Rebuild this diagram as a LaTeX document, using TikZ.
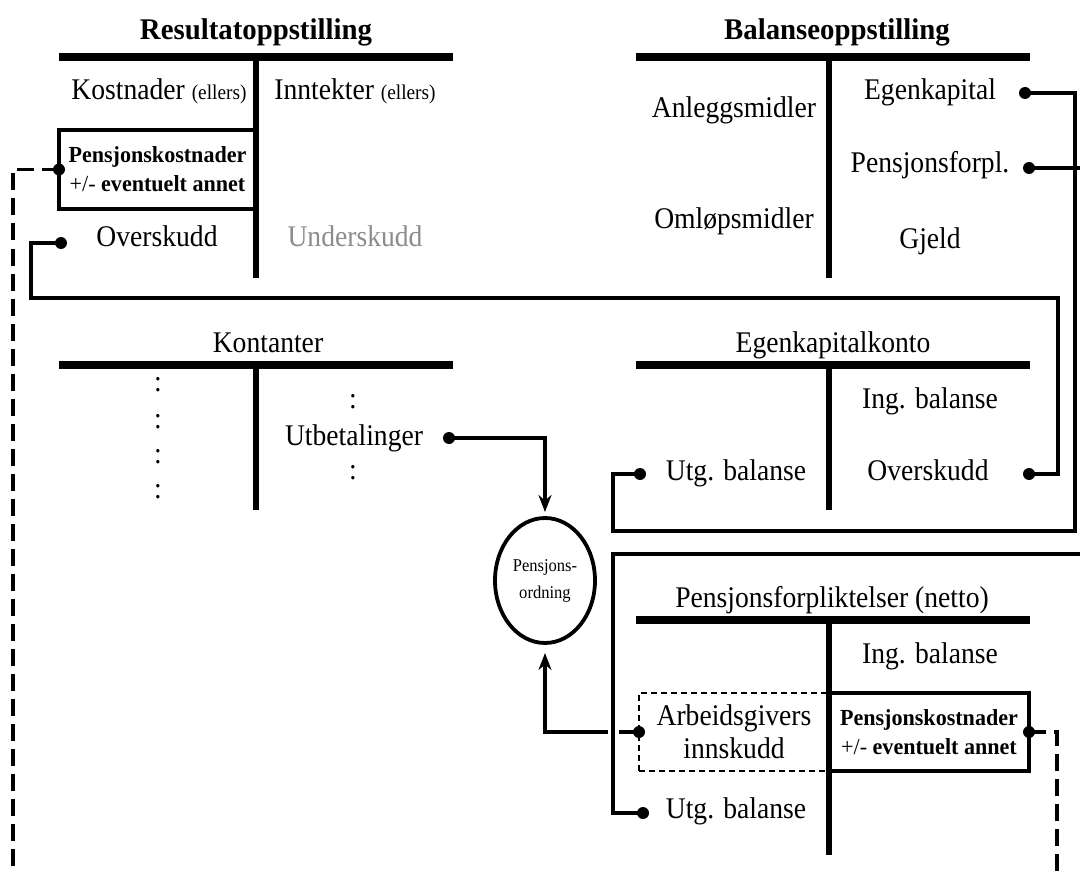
\documentclass[tikz,border=0pt]{standalone}
\usepackage{fontspec}
\setmainfont{Liberation Serif}[FakeStretch=0.92]
\newfontfamily\ttlfont{Liberation Serif}[FakeStretch=0.96]
\usetikzlibrary{arrows.meta,shapes.geometric}
\definecolor{undergray}{gray}{0.55}

\begin{document}
\begin{tikzpicture}[x=1pt,y=-1pt,
  every node/.style={inner sep=0pt,outer sep=0pt},
  txt/.style={anchor=base,font=\fontsize{30}{33}\selectfont},
  ttl/.style={anchor=base,font=\ttlfont\fontsize{30}{33}\selectfont\bfseries},
  bar/.style={line width=8pt},
  stem/.style={line width=6pt},
  conn/.style={line width=3.8pt,line cap=rect},
  arr/.style={line width=3.8pt,-{Stealth[length=17pt,width=13pt]}},
  dashconn/.style={line width=3.2pt,dash pattern=on 17pt off 8pt},
  costbox/.style={draw,line width=4pt,minimum height=79pt,align=center,
    font=\ttlfont\fontsize{23}{29}\selectfont\bfseries},
  dashbox/.style={draw,line width=2.6pt,dash pattern=on 6pt off 4pt,minimum height=78pt,
    align=center,font=\fontsize{30}{33}\selectfont},
]
\useasboundingbox (0,0) rectangle (1080,872);
\fill[white] (0,0) rectangle (1080,872);
\clip (0,0) rectangle (1080,872);

% ---------- Resultatoppstilling ----------
\node[ttl] (resT) at (256,39.5) {Resultatoppstilling};
\draw[bar] (59,57) -- (453,57);
\node[costbox,minimum width=197pt] (resbox) at (157.5,169.5)
  {Pensjonskostnader\\{\mdseries +/-} eventuelt annet};
\draw[stem] (256,57) -- (256,278);
\node[txt] (kost) at (159,100) {Kostnader {\fontsize{21}{24}\selectfont(ellers)}};
\node[txt] (innt) at (355,100) {Inntekter {\fontsize{21}{24}\selectfont(ellers)}};
\node[txt] (oversk) at (157,247) {Overskudd};
\node[txt,text=undergray] (undersk) at (355,247) {Underskudd};

% ---------- Balanseoppstilling ----------
\node[ttl] (balT) at (837,39.5) {Balanseoppstilling};
\draw[bar] (636,57) -- (1030,57);
\draw[stem] (829,57) -- (829,278);
\node[txt] (anl) at (734,118) {Anleggsmidler};
\node[txt] (oml) at (734,229) {Omløpsmidler};
\node[txt] (ek) at (930,100) {Egenkapital};
\node[txt] (pf) at (930,173) {Pensjonsforpl.};
\node[txt] (gj) at (930,248) {Gjeld};

% ---------- Kontanter ----------
\node[txt] (konT) at (268,352) {Kontanter};
\draw[bar] (59,365) -- (453,365);
\draw[stem] (256,365) -- (256,510);
\node[font=\fontsize{30}{33}\selectfont] (k1) at (158,385) {:};
\node[font=\fontsize{30}{33}\selectfont] (k2) at (158,422) {:};
\node[font=\fontsize{30}{33}\selectfont] (k3) at (158,457) {:};
\node[font=\fontsize{30}{33}\selectfont] (k4) at (158,492) {:};
\node[font=\fontsize{30}{33}\selectfont] (k5) at (353,402) {:};
\node[txt] (utb) at (354,445) {Utbetalinger};
\node[font=\fontsize{30}{33}\selectfont] (k6) at (353,473) {:};

% ---------- Egenkapitalkonto ----------
\node[txt] (ekkT) at (833,352) {Egenkapitalkonto};
\draw[bar] (636,365) -- (1030,365);
\draw[stem] (829,365) -- (829,510);
\node[txt] (ekIng) at (930,408) {Ing. balanse};
\node[txt] (ekUtg) at (736,480) {Utg. balanse};
\node[txt] (ekOv) at (928,480) {Overskudd};

% ---------- Pensjonsforpliktelser ----------
\node[txt] (pfT) at (832,607) {Pensjonsforpliktelser (netto)};
\draw[bar] (636,620) -- (1030,620);
\node[dashbox,minimum width=190pt] (arbbox) at (734,732) {Arbeidsgivers\\innskudd};
\node[costbox,minimum width=200pt,minimum height=78pt] (penbox) at (929,732)
  {Pensjonskostnader\\{\mdseries +/-} eventuelt annet};
\draw[stem] (829,620) -- (829,855);
\node[txt] (pfIng) at (930,663) {Ing. balanse};
\node[txt] (pfUtg) at (736,818) {Utg. balanse};

% ---------- Pensjonsordning ----------
\node[draw,ellipse,line width=3.8pt,minimum width=100pt,minimum height=125pt,
  align=center,font=\fontsize{18}{27}\selectfont] (po) at (545,580.5) {Pensjons-\\ordning};

% ---------- connector end points ----------
\coordinate (dRK) at (resbox.west);
\coordinate (dRO) at (61,243);
\coordinate (dEK) at (1025,93);
\coordinate (dPF) at (1029,168);
\coordinate (dUt) at (449,438);
\coordinate (dEU) at (640,474);
\coordinate (dEO) at (1029,474);
\coordinate (dAI) at (arbbox.west);
\coordinate (dPK) at (penbox.east);
\coordinate (dPU) at (643,813);
\coordinate (c1) at (31,298);
\coordinate (c2) at (1058,298);
\coordinate (c3) at (613,531);
\coordinate (c4) at (1075,531);
\coordinate (c5) at (613,554);
\coordinate (c6) at (1092,554);
\coordinate (bl) at (13,885);
\coordinate (br) at (1057,885);

% ---------- connectors ----------
\draw[conn] (dRO) -| (c1) -- (c2) |- (dEO);
\draw[conn] (dEU) -| (c3) -- (c4) |- (dEK);
\draw[arr,shorten >=6pt] (dUt) -| (po.north);
\draw[arr,shorten >=10pt] (dAI) -| (po.south);
\draw[conn,preaction={draw=white,line width=11pt,line cap=butt}] (dPU) -| (c5);
\draw[conn] (c5) -- (c6) |- (dPF);
\draw[dashconn] (dRK) -| (bl);
\draw[dashconn] (dPK) -| (br);

\foreach \d in {dRK,dRO,dEK,dPF,dUt,dEU,dEO,dAI,dPK,dPU}
  \fill (\d) circle (6pt);
\end{tikzpicture}
\end{document}
